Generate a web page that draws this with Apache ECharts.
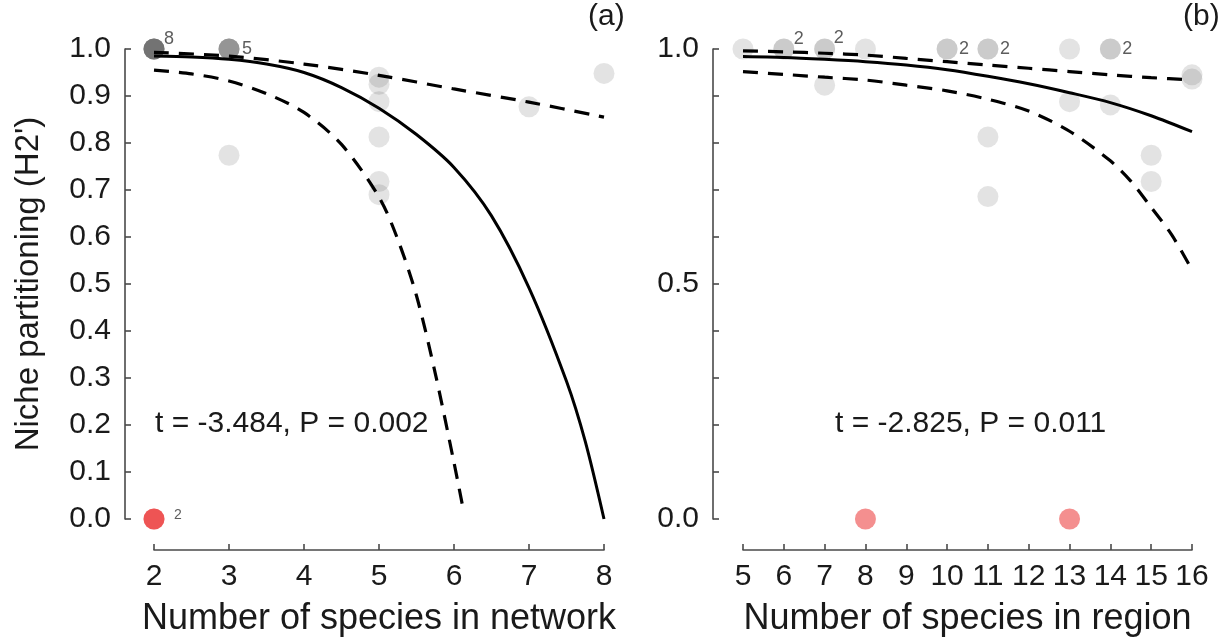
<!DOCTYPE html>
<html>
<head>
<meta charset="utf-8">
<script src="https://cdn.jsdelivr.net/npm/echarts@6/dist/echarts.min.js"></script>
<style>
  html, body { margin: 0; padding: 0; background: #fff; }
  #chart { width: 1224px; height: 642px; }
</style>
</head>
<body>
<div id="chart"></div>
<script>
// ---- Panel (a): number of species in network ----
// observations: [species, H2', number of overlapping observations]
const pointsA = [
  [2, 1.0, 8], [3, 1.0, 5], [3, 0.774, 1],
  [5, 0.94, 1], [5, 0.925, 1], [5, 0.888, 1], [5, 0.813, 1], [5, 0.718, 1], [5, 0.69, 1],
  [7, 0.877, 1], [8, 0.948, 1]
];
const zeroA = [[2, 0.0, 2]];
const countLabelsA = [[2, 1.0, '8'], [3, 1.0, '5'], [2, 0.0, '2']];
// fitted model and its confidence band
const fitA = [[2, 0.985], [2.5, 0.983], [3, 0.978], [3.5, 0.968], [4, 0.950], [4.5, 0.918], [5, 0.874],
  [5.5, 0.818], [6, 0.748], [6.5, 0.645], [7, 0.492], [7.5, 0.293], [7.75, 0.165], [8, 0.0]];
const upperA = [[2, 0.993], [3, 0.985], [4, 0.968], [5, 0.944], [6, 0.915], [7, 0.887], [8, 0.855]];
const lowerA = [[2, 0.955], [2.5, 0.947], [3, 0.932], [3.5, 0.905], [4, 0.865], [4.5, 0.797], [5, 0.685],
  [5.25, 0.595], [5.5, 0.475], [5.75, 0.31], [6, 0.12], [6.13, 0.015]];
const statA = 't = -3.484, P = 0.002';

// ---- Panel (b): number of species in region ----
const pointsB = [
  [5, 1.0, 1], [6, 1.0, 2], [7, 1.0, 2], [7, 0.923, 1], [8, 1.0, 1],
  [10, 1.0, 2], [11, 1.0, 2], [11, 0.813, 1], [11, 0.686, 1],
  [13, 1.0, 1], [13, 0.888, 1], [14, 1.0, 2], [14, 0.881, 1],
  [15, 0.774, 1], [15, 0.718, 1], [16, 0.945, 1], [16, 0.936, 1]
];
const zeroB = [[8, 0.0, 1], [13, 0.0, 1]];
const countLabelsB = [[6, 1.0, '2'], [7, 1.0, '2'], [10, 1.0, '2'], [11, 1.0, '2'], [14, 1.0, '2']];
const fitB = [[5, 0.984], [6, 0.982], [7, 0.978], [8, 0.973], [9, 0.966], [10, 0.956], [11, 0.942],
  [12, 0.926], [13, 0.907], [14, 0.886], [15, 0.858], [16, 0.824]];
const upperB = [[5, 0.996], [6, 0.994], [7, 0.991], [8, 0.987], [9, 0.980], [10, 0.973], [11, 0.966],
  [12, 0.959], [13, 0.952], [14, 0.945], [15, 0.939], [16, 0.934]];
const lowerB = [[5, 0.952], [6, 0.946], [7, 0.94], [8, 0.934], [9, 0.923], [10, 0.911], [11, 0.893],
  [12, 0.868], [13, 0.825], [14, 0.762], [14.5, 0.719], [15, 0.663], [15.5, 0.605], [16, 0.53]];
const statB = 't = -2.825, P = 0.011';

const yLabelsB = ['0.0', '0.5', '1.0'];
const yTitle = "Niche partitioning (H2')";
const xTitleA = 'Number of species in network';
const xTitleB = 'Number of species in region';

// ---- styling ----
const FONT = '"Liberation Sans", Arial, sans-serif';
const AXIS_COLOR = '#4a4a4a';
const GRAY = 'rgba(60,60,60,0.18)';
const RED = 'rgba(232,20,20,0.6)';

// label offsets (px) for the count annotations, keyed by "x,y"
const countOffsets = {
  '2,1': [15, -10], '3,1': [18, 0], '2,0': [24, -4],
  '6,1': [15, -10], '7,1': [14, -11], '10,1': [17, 0], '11,1': [17, 0], '14,1': [17, 0]
};

// one symbol per observation, so overlapping ones darken
function expand(points) {
  const out = [];
  points.forEach(p => { for (let i = 0; i < p[2]; i++) out.push([p[0], p[1]]); });
  return out;
}

function scatter(idx, data, color) {
  return {
    type: 'scatter', xAxisIndex: idx, yAxisIndex: idx, z: 2,
    symbol: 'circle', symbolSize: 21, data: expand(data),
    itemStyle: { color: color, borderWidth: 0 },
    emphasis: { disabled: true }, silent: true
  };
}

function curve(idx, data, dashed) {
  return {
    type: 'line', xAxisIndex: idx, yAxisIndex: idx, z: 5,
    data: data, showSymbol: false, symbol: 'none',
    smooth: 0.3,
    lineStyle: dashed
      ? { color: '#000', width: 3.2, type: [15, 10], cap: 'butt' }
      : { color: '#000', width: 3 },
    emphasis: { disabled: true }, silent: true
  };
}

function counts(idx, data) {
  return {
    type: 'scatter', xAxisIndex: idx, yAxisIndex: idx, z: 6,
    symbolSize: 1, itemStyle: { color: 'rgba(0,0,0,0)' },
    data: data.map(d => ({
      value: [d[0], d[1]],
      label: {
        show: true, formatter: d[2], position: 'inside',
        offset: countOffsets[d[0] + ',' + d[1]] || [16, 0],
        fontSize: d[1] === 0 ? 14 : 18, color: '#333', fontFamily: FONT
      }
    })),
    emphasis: { disabled: true }, silent: true
  };
}

function xAxis(idx, min, max, name) {
  return {
    gridIndex: idx, type: 'value', min: min, max: max, interval: 1,
    offset: 31,
    name: name, nameLocation: 'middle', nameGap: 51,
    nameTextStyle: { fontSize: 36, color: '#1a1a1a', fontFamily: FONT },
    axisLine: { show: true, onZero: false, lineStyle: { color: AXIS_COLOR, width: 1.6 } },
    axisTick: { show: true, inside: true, length: 6, lineStyle: { color: AXIS_COLOR, width: 1.6 } },
    axisLabel: { fontSize: 30, color: '#1a1a1a', fontFamily: FONT, margin: 12, showMinLabel: true, showMaxLabel: true },
    splitLine: { show: false }
  };
}

function yAxis(idx, formatter, withName) {
  const ax = {
    gridIndex: idx, type: 'value', min: 0, max: 1, interval: 0.1,
    offset: idx === 0 ? 29 : 30,
    axisLine: { show: true, onZero: false, lineStyle: { color: AXIS_COLOR, width: 1.6 } },
    axisTick: { show: true, inside: true, length: 6, lineStyle: { color: AXIS_COLOR, width: 1.6 } },
    axisLabel: { fontSize: 30, color: '#1a1a1a', fontFamily: FONT, margin: 14, formatter: formatter },
    splitLine: { show: false }
  };
  if (withName) {
    Object.assign(ax, {
      name: yTitle, nameLocation: 'middle', nameGap: 80, nameRotate: 90,
      nameTextStyle: { fontSize: 33, color: '#1a1a1a', fontFamily: FONT }
    });
  }
  return ax;
}

const chart = echarts.init(document.getElementById('chart'), null, { renderer: 'canvas' });

chart.setOption({
  animation: false,
  backgroundColor: '#fff',
  grid: [
    { left: 154, top: 49, width: 450, height: 470, containLabel: false, outerBoundsMode: 'none' },
    { left: 743, top: 49, width: 449, height: 470, containLabel: false, outerBoundsMode: 'none' }
  ],
  xAxis: [xAxis(0, 2, 8, xTitleA), xAxis(1, 5, 16, xTitleB)],
  yAxis: [
    yAxis(0, v => v.toFixed(1), true),
    yAxis(1, v => (yLabelsB.indexOf(v.toFixed(1)) >= 0 ? v.toFixed(1) : ''), false)
  ],
  series: [
    scatter(0, pointsA, GRAY),
    scatter(0, zeroA, RED),
    curve(0, upperA, true),
    curve(0, lowerA, true),
    curve(0, fitA, false),
    counts(0, countLabelsA),
    scatter(1, pointsB, GRAY),
    scatter(1, zeroB, RED),
    curve(1, upperB, true),
    curve(1, lowerB, true),
    curve(1, fitB, false),
    counts(1, countLabelsB)
  ],
  graphic: [
    { type: 'text', left: 155, top: 409, style: { text: statA, fontSize: 30, fill: '#1a1a1a', fontFamily: FONT } },
    { type: 'text', left: 835, top: 409, style: { text: statB, fontSize: 30, fill: '#1a1a1a', fontFamily: FONT } },
    { type: 'text', left: 588, top: 2, style: { text: '(a)', fontSize: 30, fill: '#1a1a1a', fontFamily: FONT } },
    { type: 'text', left: 1183, top: 2, style: { text: '(b)', fontSize: 30, fill: '#1a1a1a', fontFamily: FONT } }
  ]
});
</script>
</body>
</html>
